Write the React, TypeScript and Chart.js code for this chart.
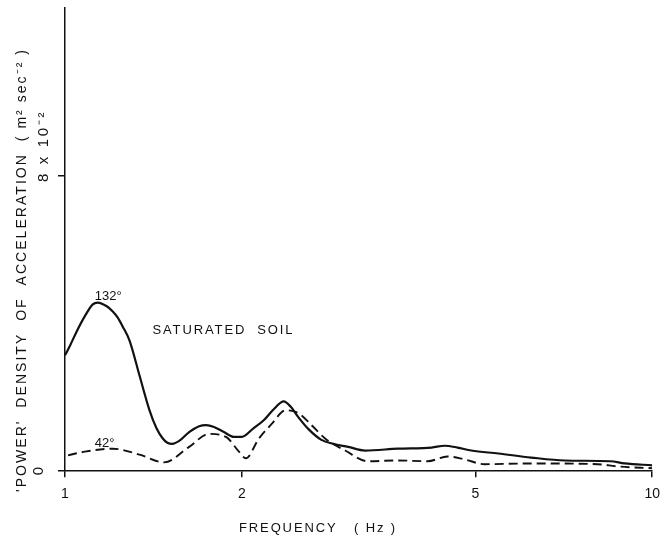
import React, { useEffect, useRef } from 'react';
import { Chart, registerables } from 'chart.js';

Chart.register(...registerables);

// Frequencies (Hz) and power density (m^2 sec^-2)
const freqSolid = [1.0, 1.0197, 1.048, 1.081, 1.115, 1.137, 1.178, 1.206, 1.229, 1.253, 1.288, 1.339, 1.393, 1.431, 1.465, 1.494, 1.523, 1.565, 1.627, 1.692, 1.739, 1.794, 1.865, 1.939, 2.0, 2.096, 2.18, 2.267, 2.357, 2.422, 2.498, 2.598, 2.733, 2.864, 3.035, 3.243, 3.688, 4.211, 4.43, 4.66, 4.92, 5.47, 6.22, 7.1, 8.49, 8.97, 10];
const powerSolid = [0.0314, 0.034, 0.038, 0.042, 0.0452, 0.0457, 0.0447, 0.0433, 0.0417, 0.0393, 0.0354, 0.026, 0.0165, 0.0117, 0.009, 0.0077, 0.0074, 0.0082, 0.0106, 0.0122, 0.0125, 0.012, 0.0106, 0.0093, 0.0093, 0.0117, 0.0138, 0.0168, 0.0189, 0.0175, 0.0146, 0.0114, 0.0085, 0.0074, 0.0066, 0.0056, 0.0061, 0.0064, 0.0069, 0.0064, 0.0056, 0.0048, 0.0037, 0.0029, 0.0027, 0.0021, 0.0016];

const freqDashed = [1.012, 1.081, 1.206, 1.339, 1.476, 1.627, 1.759, 1.88, 1.978, 2.032, 2.138, 2.249, 2.375, 2.498, 2.628, 2.776, 3.0, 3.28, 3.688, 4.146, 4.48, 4.79, 5.18, 6.22, 8.07, 8.73, 10];
const powerDashed = [0.0043, 0.0053, 0.0061, 0.0045, 0.0024, 0.0066, 0.0101, 0.0093, 0.0053, 0.0035, 0.0088, 0.0128, 0.0165, 0.0157, 0.0125, 0.0088, 0.0056, 0.0027, 0.0029, 0.0027, 0.004, 0.0032, 0.0019, 0.0021, 0.0019, 0.0013, 0.0008];

const xTicks = [1, 2, 5, 10];
const yTicks = [0, 0.08];
const yTickLabels = ['0', '8 x 10⁻²'];
const seriesLabels = ['132°', '42°'];
const annotation = 'SATURATED  SOIL';
const xTitle = 'FREQUENCY   ( Hz )';
const yTitle = "'POWER'  DENSITY  OF  ACCELERATION  ( m² sec⁻² )";

const INK = '#111';
const FONT = '"Liberation Sans", Arial, sans-serif';

function drawSpaced(ctx: CanvasRenderingContext2D, text: string, x: number, y: number, target: number, size: number, angle: number) {
  ctx.save();
  ctx.font = `${size}px ${FONT}`;
  (ctx as any).letterSpacing = '0px';
  const w = ctx.measureText(text).width;
  const sp = target > 0 ? (target - w) / text.length : 0;
  (ctx as any).letterSpacing = `${sp}px`;
  ctx.translate(x, y);
  ctx.rotate(angle);
  ctx.textAlign = 'left';
  ctx.textBaseline = 'middle';
  ctx.fillStyle = INK;
  ctx.fillText(text, 0, 0);
  ctx.restore();
}

const textPlugin = {
  id: 'texts',
  afterDraw(chart: any) {
    const ctx: CanvasRenderingContext2D = chart.ctx;
    const xs = chart.scales.x;
    const ys = chart.scales.y;
    const y0 = ys.getPixelForValue(yTicks[0]);
    ctx.save();
    ctx.font = `15px ${FONT}`;
    ctx.fillStyle = INK;
    ctx.translate(39, y0);
    ctx.rotate(-Math.PI / 2);
    ctx.textAlign = 'center';
    ctx.textBaseline = 'middle';
    ctx.fillText(yTickLabels[0], 0, 0);
    ctx.restore();
    const y8 = ys.getPixelForValue(yTicks[1]);
    drawSpaced(ctx, yTickLabels[1], 44, y8 + 6, 72, 15, -Math.PI / 2);
    drawSpaced(ctx, yTitle, 22, 492, 444, 14, -Math.PI / 2);
    drawSpaced(ctx, xTitle, 239, 528, 158, 13, 0);
    drawSpaced(ctx, seriesLabels[0], xs.getPixelForValue(1.124), 296, 0, 13, 0);
    drawSpaced(ctx, seriesLabels[1], xs.getPixelForValue(1.124), 443, 0, 13, 0);
    drawSpaced(ctx, annotation, xs.getPixelForValue(1.409), 330, 142, 13, 0);
  },
};

export default function App() {
  const ref = useRef<HTMLCanvasElement | null>(null);
  useEffect(() => {
    if (!ref.current) return;
    const chart = new Chart(ref.current, {
      type: 'line',
      data: {
        datasets: [
          {
            data: freqSolid.map((f, i) => ({ x: f, y: powerSolid[i] })),
            borderColor: INK,
            borderWidth: 2.2,
            pointRadius: 0,
            cubicInterpolationMode: 'monotone',
            fill: false,
          },
          {
            data: freqDashed.map((f, i) => ({ x: f, y: powerDashed[i] })),
            borderColor: INK,
            borderWidth: 1.9,
            borderDash: [9, 5],
            pointRadius: 0,
            cubicInterpolationMode: 'monotone',
            fill: false,
          },
        ],
      },
      options: {
        responsive: false,
        animation: false,
        layout: { padding: { left: 58, right: 13, top: 8, bottom: 25 } },
        plugins: { legend: { display: false }, tooltip: { enabled: false } },
        scales: {
          x: {
            type: 'logarithmic',
            min: 1,
            max: 10,
            afterBuildTicks: (s: any) => {
              s.ticks = xTicks.map((v) => ({ value: v }));
            },
            ticks: {
              callback: (v: any) => String(v),
              font: { size: 14, family: FONT },
              color: INK,
              padding: 9,
              maxRotation: 0,
              autoSkip: false,
            },
            grid: { drawOnChartArea: false, drawTicks: true, tickLength: 6, color: INK, lineWidth: 1.5 },
            border: { color: INK, width: 1.5 },
          },
          y: {
            min: 0,
            max: 0.1255,
            afterBuildTicks: (s: any) => {
              s.ticks = yTicks.map((v) => ({ value: v }));
            },
            ticks: { display: false },
            grid: { drawOnChartArea: false, drawTicks: true, tickLength: 7, color: INK, lineWidth: 1.5 },
            border: { color: INK, width: 1.5 },
          },
        },
      },
      plugins: [textPlugin],
    } as any);
    return () => chart.destroy();
  }, []);
  return (
    <div style={{ position: 'fixed', left: 0, top: 0, width: 669, height: 537, background: '#fff' }}>
      <canvas ref={ref} width={669} height={537} style={{ width: 669, height: 537, display: 'block' }} />
    </div>
  );
}
